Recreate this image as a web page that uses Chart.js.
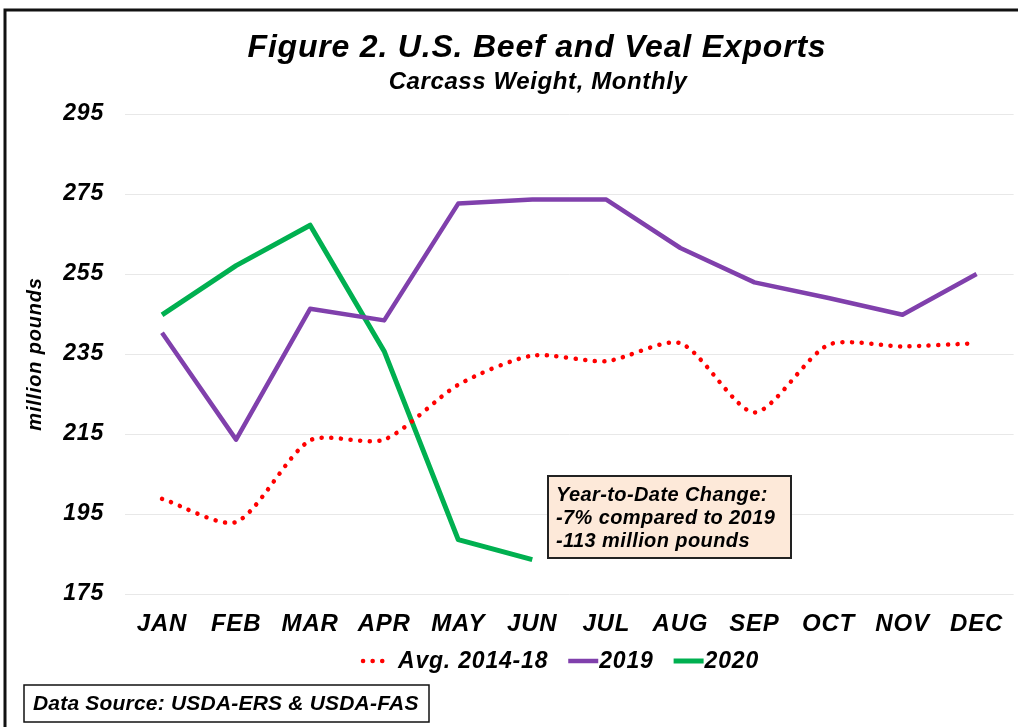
<!DOCTYPE html>
<html>
<head>
<meta charset="utf-8">
<script src="https://cdn.jsdelivr.net/npm/chart.js@4.4.0/dist/chart.umd.min.js"></script>
<style>
  html, body { margin: 0; padding: 0; background: #fff; }
  #wrap { width: 1018px; height: 727px; position: relative; }
</style>
</head>
<body>
<div id="wrap"><canvas id="chart" width="1018" height="727"></canvas></div>
<script>
// === DATA ===
const months = ["JAN", "FEB", "MAR", "APR", "MAY", "JUN", "JUL", "AUG", "SEP", "OCT", "NOV", "DEC"];
const avg1418 = [198.8, 193.0, 213.4, 213.6, 227.3, 234.6, 233.2, 237.7, 220.4, 237.3, 236.9, 237.7];
const y2019 = [240.3, 213.6, 246.3, 243.4, 272.6, 273.6, 273.6, 261.5, 252.9, 249.0, 244.8, 255.0];
const y2020 = [244.8, 257.1, 267.2, 235.7, 188.6, 183.6];
const yTicks = [175, 195, 215, 235, 255, 275, 295];
const noteLines = ["Year-to-Date Change:", "-7% compared to 2019", "-113 million pounds"];
const sourceText = "Data Source: USDA-ERS & USDA-FAS";

const FONT = "'Liberation Sans', Arial, sans-serif";

// === DECORATIONS (cadre, titres, légende, encadrés) ===
const decor = {
  id: "decor",
  beforeDraw(chart) {
    // texte légèrement espacé, comme dans l'original
    chart.ctx.letterSpacing = "0.8px";
  },
  afterDraw(chart) {
    const ctx = chart.ctx;
    ctx.save();

    // cadre extérieur
    ctx.strokeStyle = "#111";
    ctx.lineWidth = 3;
    ctx.beginPath();
    ctx.moveTo(5, 727);
    ctx.lineTo(5, 10);
    ctx.lineTo(1018, 10);
    ctx.stroke();

    // titres
    ctx.fillStyle = "#000";
    ctx.textAlign = "center";
    ctx.textBaseline = "alphabetic";
    ctx.letterSpacing = "0.8px";
    ctx.font = `italic bold 32px ${FONT}`;
    ctx.fillText("Figure 2. U.S. Beef and Veal Exports", 537, 57);
    ctx.letterSpacing = "0.6px";
    ctx.font = `italic bold 24px ${FONT}`;
    ctx.fillText("Carcass Weight, Monthly", 538, 89);

    // légende
    ctx.letterSpacing = "0.8px";
    ctx.font = `italic bold 23px ${FONT}`;
    ctx.textBaseline = "middle";
    ctx.textAlign = "left";
    const ly = 661;
    let x = 363;
    chart.data.datasets.forEach(d => {
      const dotted = !!d.borderDash;
      const sw = dotted ? 25 : 30;
      ctx.save();
      ctx.strokeStyle = d.borderColor;
      ctx.lineWidth = d.borderWidth;
      ctx.lineCap = d.borderCapStyle || "butt";
      ctx.setLineDash(d.borderDash || []);
      ctx.beginPath();
      ctx.moveTo(x, ly);
      ctx.lineTo(x + sw, ly);
      ctx.stroke();
      ctx.restore();
      x += sw + (dotted ? 10 : 1);
      ctx.fillText(d.label, x, ly + 1);
      x += ctx.measureText(d.label).width + 20;
    });

    // encadré variation
    ctx.fillStyle = "#fde9d9";
    ctx.fillRect(548, 476, 243, 82);
    ctx.strokeStyle = "#222";
    ctx.lineWidth = 2;
    ctx.strokeRect(548, 476, 243, 82);
    ctx.fillStyle = "#000";
    ctx.letterSpacing = "0.4px";
    ctx.font = `italic bold 20px ${FONT}`;
    noteLines.forEach((t, i) => ctx.fillText(t, 556, 495 + i * 23));

    // source
    ctx.fillStyle = "#fff";
    ctx.fillRect(24, 685, 405, 37);
    ctx.strokeStyle = "#111";
    ctx.lineWidth = 1.5;
    ctx.strokeRect(24, 685, 405, 37);
    ctx.fillStyle = "#000";
    ctx.letterSpacing = "0.2px";
    ctx.font = `italic bold 21px ${FONT}`;
    ctx.fillText(sourceText, 33, 704);

    ctx.restore();
  }
};

// === GRAPHIQUE ===
new Chart(document.getElementById("chart"), {
  type: "line",
  data: {
    labels: months,
    datasets: [
      {
        label: "Avg. 2014-18",
        data: avg1418,
        borderColor: "#ff0000",
        borderWidth: 4.5,
        borderDash: [0.1, 9.5],
        borderCapStyle: "round",
        pointRadius: 0,
        tension: 0.25,
        fill: false
      },
      {
        label: "2019",
        data: y2019,
        borderColor: "#8040ac",
        borderWidth: 4.5,
        borderJoinStyle: "round",
        pointRadius: 0,
        tension: 0,
        fill: false
      },
      {
        label: "2020",
        data: y2020,
        borderColor: "#00b050",
        borderWidth: 5,
        borderJoinStyle: "round",
        pointRadius: 0,
        tension: 0,
        fill: false
      }
    ]
  },
  options: {
    responsive: false,
    animation: false,
    layout: { padding: { top: 114, right: 2, bottom: 0, left: 0 } },
    plugins: { legend: { display: false }, title: { display: false }, tooltip: { enabled: false } },
    scales: {
      x: {
        offset: true,
        grid: { display: false, drawTicks: false },
        border: { display: false },
        ticks: { color: "#000", padding: 16, font: { family: FONT, size: 24, style: "italic", weight: "bold" } },
        afterFit: s => { s.height = 133; }
      },
      y: {
        min: 175,
        max: 295,
        afterBuildTicks: s => { s.ticks = yTicks.map(v => ({ value: v })); },
        grid: { color: "#e8e8e8", lineWidth: 1, drawTicks: false },
        border: { display: false },
        ticks: { color: "#000", padding: 21, font: { family: FONT, size: 23, style: "italic", weight: "bold" } },
        title: {
          display: true,
          text: "million pounds",
          color: "#000",
          padding: { top: 23, bottom: 0 },
          font: { family: FONT, size: 20, style: "italic", weight: "bold" }
        },
        afterFit: s => { s.width = 125; }
      }
    }
  },
  plugins: [decor]
});
</script>
</body>
</html>
